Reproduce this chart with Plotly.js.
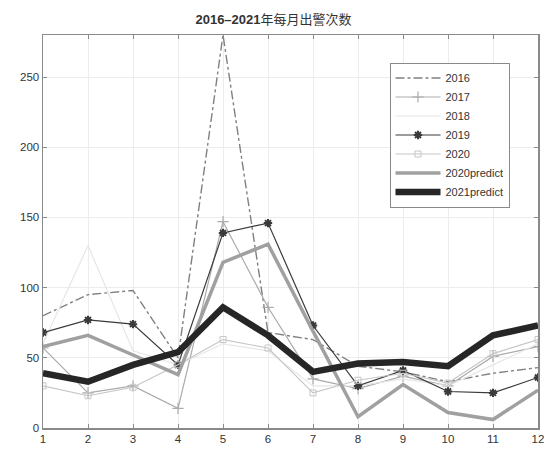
<!DOCTYPE html>
<html>
<head>
<meta charset="utf-8">
<script src="https://cdn.plot.ly/plotly-3.0.1.min.js"></script>
<style>
  html, body { margin: 0; padding: 0; background: #fff; }
  #chart { width: 547px; height: 450px; }
</style>
</head>
<body>
<div id="chart"></div>
<script>
// Monthly call-out counts, 2016–2021
const months = [1, 2, 3, 4, 5, 6, 7, 8, 9, 10, 11, 12];

const y2016 = [80, 95, 98, 50, 280, 68, 63, 44, 40, 33, 39, 43];
const y2017 = [57, 25, 30, 14, 147, 86, 35, 28, 37, 30, 51, 58];
const y2018 = [60, 130, 55, 45, 60, 55, 30, 30, 35, 30, 45, 60];
const y2019 = [68, 77, 74, 45, 139, 146, 73, 30, 41, 26, 25, 36];
const y2020 = [30, 23, 29, 45, 63, 57, 25, 34, 39, 32, 53, 63];
const y2020predict = [58, 66, 52, 38, 118, 131, 69, 8, 31, 11, 6, 27];
const y2021predict = [39, 33, 45, 54, 86, 66, 40, 46, 47, 44, 66, 73];

const seriesNames = ['2016', '2017', '2018', '2019', '2020', '2020predict', '2021predict'];

const traces = [
  { x: months, y: y2016, name: seriesNames[0], mode: 'lines',
    line: { color: '#808080', width: 1.4, dash: 'dashdot' } },
  { x: months, y: y2017, name: seriesNames[1], mode: 'lines+markers',
    line: { color: '#ababab', width: 1.2 },
    marker: { symbol: 'cross-thin-open', size: 8, line: { color: '#ababab', width: 1.2 } } },
  { x: months, y: y2018, name: seriesNames[2], mode: 'lines',
    line: { color: '#e6e6e6', width: 1.2 } },
  { x: months, y: y2019, name: seriesNames[3], mode: 'lines+markers',
    line: { color: '#3a3a3a', width: 1.2 },
    marker: { symbol: 'asterisk-open', size: 7, line: { color: '#2a2a2a', width: 2 } } },
  { x: months, y: y2020, name: seriesNames[4], mode: 'lines+markers',
    line: { color: '#c6c6c6', width: 1.2 },
    marker: { symbol: 'square-open', size: 6, line: { color: '#bdbdbd', width: 1 } } },
  { x: months, y: y2020predict, name: seriesNames[5], mode: 'lines',
    line: { color: '#a0a0a0', width: 3.5 } },
  { x: months, y: y2021predict, name: seriesNames[6], mode: 'lines',
    line: { color: '#262626', width: 6.5 } }
];

const axisCommon = {
  showline: true, linecolor: '#8a8a8a', linewidth: 1.5, mirror: 'ticks',
  ticks: 'inside', ticklen: 4, tickcolor: '#8a8a8a',
  showgrid: true, gridcolor: '#ececec', gridwidth: 1,
  zeroline: false,
  tickfont: { family: 'Liberation Sans, Arial, sans-serif', size: 11.5, color: '#333' }
};

const layout = {
  width: 547, height: 450,
  margin: { l: 43, r: 9, t: 35, b: 22 },
  paper_bgcolor: '#ffffff', plot_bgcolor: '#ffffff',
  title: {
    text: '<b>2016–2021</b>年每月出警次数',
    x: 0.5, xanchor: 'center', y: 0.956, yanchor: 'middle',
    font: { family: 'Liberation Sans, Noto Sans CJK SC, sans-serif', size: 13, color: '#333' }
  },
  xaxis: Object.assign({}, axisCommon, { range: [1, 12], dtick: 1, tick0: 1 }),
  yaxis: Object.assign({}, axisCommon, { range: [0, 280], dtick: 50 }),
  showlegend: true,
  legend: {
    x: 0.70, y: 0.93, xanchor: 'left', yanchor: 'top',
    bgcolor: '#ffffff', bordercolor: '#8a8a8a', borderwidth: 1,
    font: { family: 'Liberation Sans, Arial, sans-serif', size: 11, color: '#333' },
    itemwidth: 45,
    tracegroupgap: 0
  }
};

Plotly.newPlot('chart', traces, layout, { displayModeBar: false, staticPlot: true });
</script>
</body>
</html>
